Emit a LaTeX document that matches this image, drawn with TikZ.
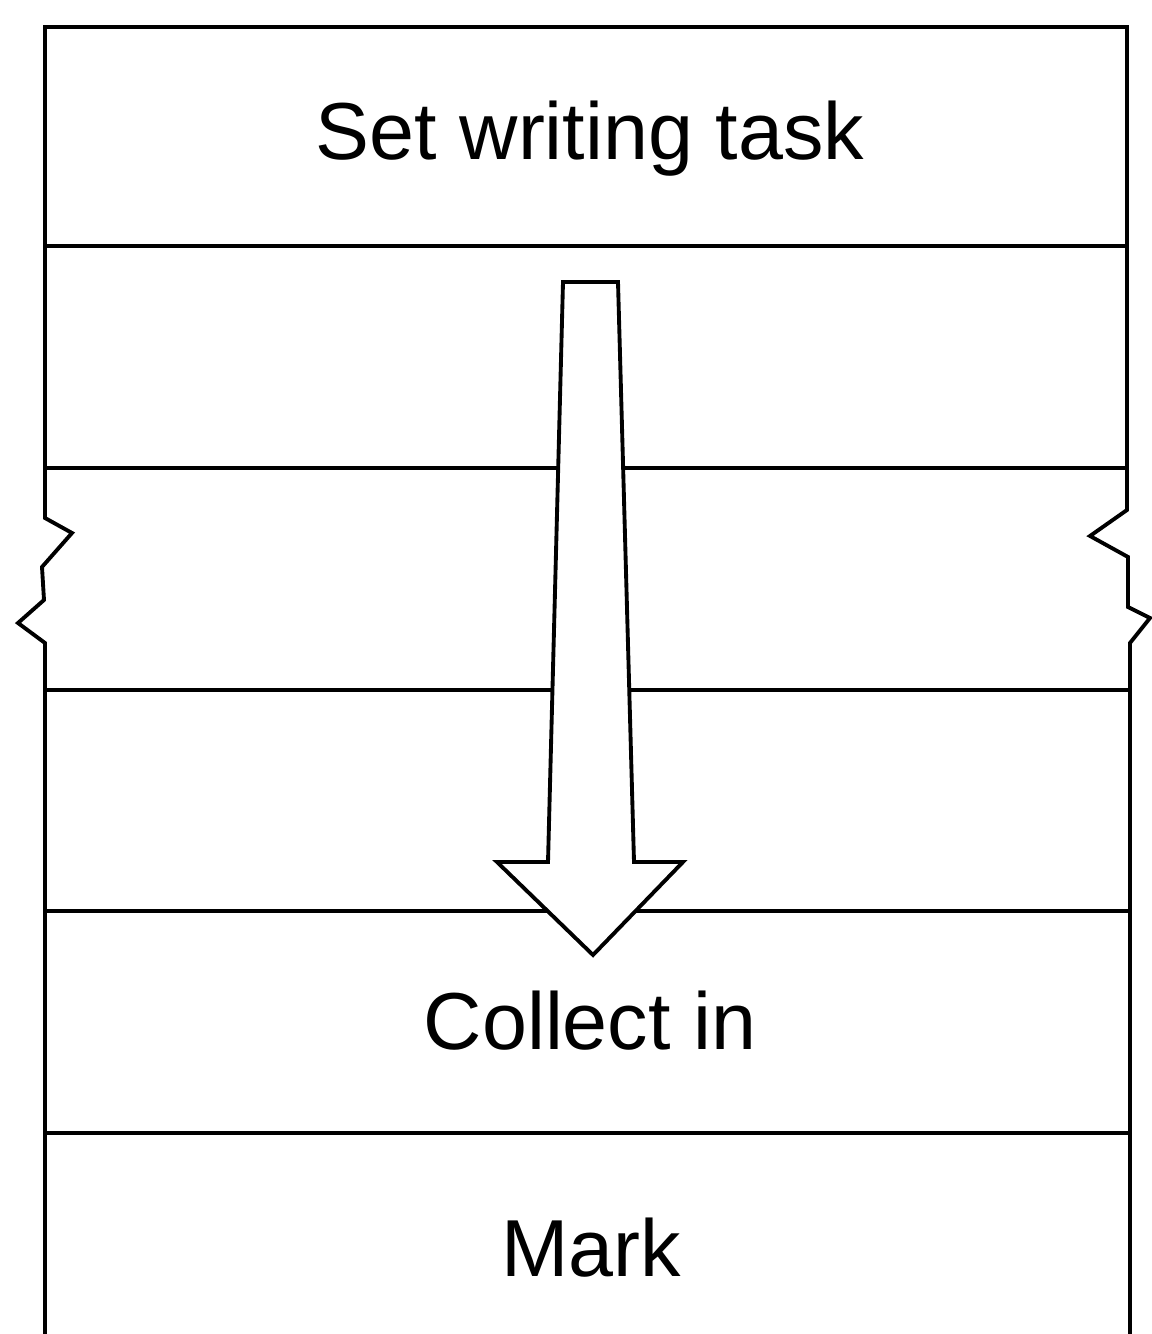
\documentclass[tikz,border=0pt]{standalone}
\usepackage{fontspec}
\setmainfont{Liberation Sans}
\usepackage{tikz}

\begin{document}
\begin{tikzpicture}[scale=1, line width=1.1pt, line join=miter,
    rowlabel/.style={anchor=base, inner sep=0pt, font=\fontsize{23}{27}\selectfont}]
        \useasboundingbox (0,0) rectangle (11.51,13.34);
        % frame with the break marks on both sides
        \draw (0.45,0) -- (0.45,6.91) -- (0.18,7.11) -- (0.44,7.34) -- (0.42,7.67)
              -- (0.72,8.01) -- (0.45,8.16) -- (0.45,13.07) -- (11.27,13.07)
              -- (11.27,8.24) -- (10.90,7.98) -- (11.28,7.77) -- (11.28,7.27)
              -- (11.50,7.16) -- (11.30,6.91) -- (11.30,0);
        \foreach \y in {10.88,8.66,6.44,4.23,2.01}
            \draw (0.45,\y) -- (11.29,\y);
        % block arrow
        \draw[fill=white] (5.63,10.52) -- (6.18,10.52) -- (6.34,4.72) -- (6.83,4.72)
              -- (5.93,3.79) -- (4.97,4.72) -- (5.48,4.72) -- cycle;
        \node[rowlabel] (settask) at (5.90,11.74) {Set writing task};
        \node[rowlabel] (collect) at (5.90,2.84) {Collect in};
        \node[rowlabel] (mark) at (5.91,0.57) {Mark};
    \end{tikzpicture}
\end{document}
